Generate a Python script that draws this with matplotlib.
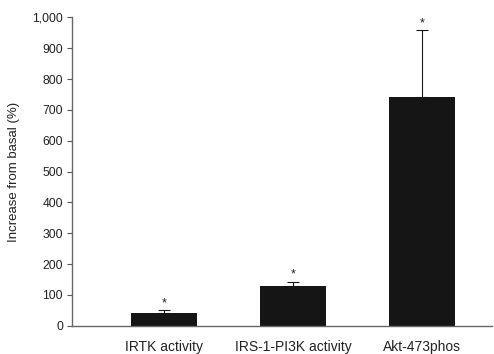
import matplotlib
matplotlib.use('Agg')
import matplotlib.pyplot as plt

plt.rcParams['font.family'] = ['Liberation Sans', 'DejaVu Sans']

labels = ['IRTK activity', 'IRS-1-PI3K activity', 'Akt-473phos']
values = [42, 129, 742]
errors = [9, 14, 217]
yticks = [0, 100, 200, 300, 400, 500, 600, 700, 800, 900, 1000]

fig = plt.figure(figsize=(4.94, 3.54), dpi=100)
ax = fig.add_axes([0.146, 0.08, 0.85, 0.871])

x = list(range(len(labels)))
ax.bar(x, values, width=0.51, color='#151515', zorder=2)
ax.errorbar(x, values, yerr=[[0] * len(errors), errors], fmt='none',
            ecolor='#151515', elinewidth=0.8, capsize=4, capthick=0.8, zorder=1)
for xi, v, e in zip(x, values, errors):
    ax.text(xi, v + e + 3, '*', ha='center', va='bottom', fontsize=9, color='#222222')

ax.set_xlim(-0.71, 2.54)
ax.set_ylim(0, 1000)
ax.set_yticks(yticks)
ax.set_yticklabels(['{:,}'.format(t) for t in yticks], fontsize=8.7, color='#222222')
ax.set_xticks(x)
ax.set_xticklabels(labels, fontsize=10, color='#222222')
ax.tick_params(axis='x', length=0, pad=10)
ax.tick_params(axis='y', length=3.5, width=0.8, color='#555555', pad=3)
ax.set_ylabel('Increase from basal (%)', fontsize=9.5, color='#222222', labelpad=9)

for s in ['top', 'right']:
    ax.spines[s].set_visible(False)
for s in ['left', 'bottom']:
    ax.spines[s].set_color('#666666')
    ax.spines[s].set_linewidth(1.0)

fig.savefig('out.png', dpi=100)
